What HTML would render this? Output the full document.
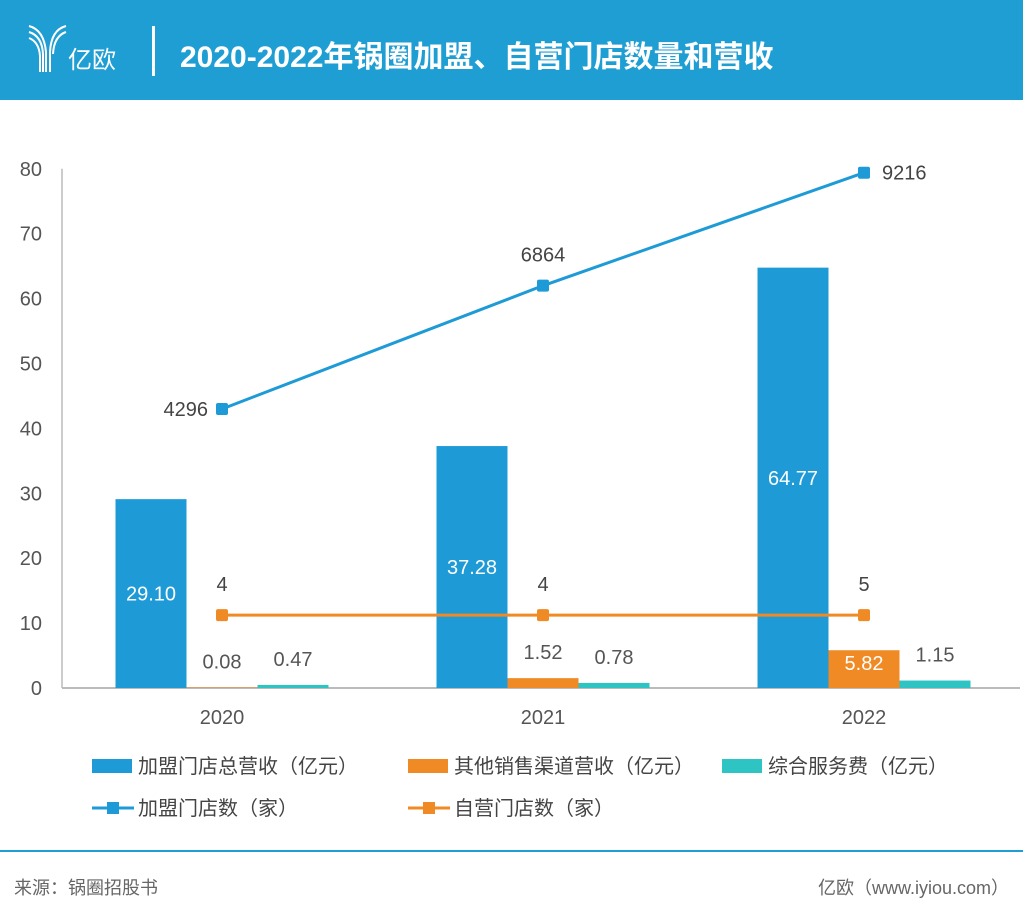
<!DOCTYPE html>
<html><head><meta charset="utf-8"><style>
body{margin:0;width:1023px;height:918px;background:#fff;font-family:"Liberation Sans","Noto Sans CJK SC",sans-serif;overflow:hidden;position:relative}
.hdr{position:absolute;left:0;top:0;width:1023px;height:100px;background:#1f9ed4}
.t{position:absolute;color:#444;font-size:19px}
</style></head><body>
<div class="hdr">
<svg width="70" height="60" style="position:absolute;left:26px;top:22px">
<path d="M3,4 Q18,8 20,30 L20,50 M3,10 Q16,14 17,32 L17,50 M3,16 Q13,20 14,34 L14,50 M40,4 Q25,8 24,30 L24,50 M40,10 Q28,14 27,32" stroke="#fff" stroke-width="2" fill="none"/></svg>
<div style="position:absolute;left:68px;top:40px;color:#fff;font-size:24px">亿欧</div>
<div style="position:absolute;left:152px;top:26px;width:3px;height:50px;background:#fff"></div>
<div style="position:absolute;left:180px;top:32px;color:#fff;font-size:30px;font-weight:bold">2020-2022年锅圈加盟、自营门店数量和营收</div>
</div>
<svg id="c" width="1023" height="740" style="position:absolute;left:0;top:100px"></svg>
<div style="position:absolute;left:0;top:850px;width:1023px;height:2px;background:#1f9ed4"></div>
<div class="t" style="left:14px;top:874px;color:#666;font-size:18px">来源：锅圈招股书</div>
<div class="t" style="right:14px;top:874px;color:#666;font-size:18px">亿欧（www.iyiou.com）</div>
<script>
const categories=["2020","2021","2022"];
const franchiseRevenue=[29.10,37.28,64.77];
const otherRevenue=[0.08,1.52,5.82];
const serviceFee=[0.47,0.78,1.15];
const franchiseStores=[4296,6864,9216];
const ownStores=[4,4,5];
const yTicks=[0,10,20,30,40,50,60,70,80];
const svg=document.getElementById('c');const NS='http://www.w3.org/2000/svg';
const OY=100;
function y(v){return 688-OY-v*6.49;}
function y2(c){return y(c*0.0074+11.2);}
function xc(i){return 222+i*321;}
function el(t,a,txt){const e=document.createElementNS(NS,t);for(const k in a)e.setAttribute(k,a[k]);if(txt!==undefined)e.textContent=txt;svg.appendChild(e);return e;}
yTicks.forEach(v=>{const e=el('text',{x:42,y:y(v)+7,'text-anchor':'end','font-size':20,fill:'#555'},v);

});
const ax=el('line',{x1:62,y1:y(0),x2:62,y2:y(80),stroke:'#ccc','stroke-width':2});


const xa=el('line',{x1:62,y1:y(0),x2:1020,y2:y(0),stroke:'#bbb','stroke-width':2});


const series=[[franchiseRevenue,'#1e9bd7',-1],[otherRevenue,'#f08a24',0],[serviceFee,'#2ec4c4',1]];
categories.forEach((c,i)=>{
 const t=el('text',{x:xc(i)+(i==0?0:0),y:y(0)+36,'text-anchor':'middle','font-size':20,fill:'#555'},c);
 
 
 series.forEach(([arr,col,o],s)=>{
  const v=arr[i],x=xc(i)+o*71-35.5,top=y(v);
  const r=el('rect',{x:x,y:top,width:71,height:y(0)-top,fill:col});
  
  
  let ly,fill='#555';
  if(v>=5){ly=(v>10?(top+y(0))/2:top+13)+7;fill='#fff';}else{ly=Math.min(top-26,y(0)-26)+7;}
  const lb=el('text',{x:x+35.5,y:ly,'text-anchor':'middle','font-size':20,fill:fill},v.toFixed(2));
  
  
 });
});
function line(arr,f,col,lbl,dx,dy,anchor){
 const p=el('polyline',{points:arr.map((v,i)=>xc(i)+','+f(v)).join(' '),fill:'none',stroke:col,'stroke-width':3});
 
 
 arr.forEach((v,i)=>{
  const m=el('rect',{x:xc(i)-6,y:f(v)-6,width:12,height:12,rx:2,fill:col});
  
  
  const d=dx[i];
  const t=el('text',{x:xc(i)+d[0],y:f(v)+d[1],'text-anchor':d[2],'font-size':20,fill:'#444'},v);
  
  
 });
}
line(franchiseStores,y2,'#1e9bd7','franchise-stores',[[-14,7,'end'],[0,-24,'middle'],[18,7,'start']]);
line(ownStores,y2,'#f08a24','own-stores',[[0,-24,'middle'],[0,-24,'middle'],[0,-24,'middle']]);
const leg=[[92,666,'bar','#1e9bd7','加盟门店总营收（亿元）'],[408,666,'bar','#f08a24','其他销售渠道营收（亿元）'],[722,666,'bar','#2ec4c4','综合服务费（亿元）'],[92,708,'line','#1e9bd7','加盟门店数（家）'],[408,708,'line','#f08a24','自营门店数（家）']];
leg.forEach(([x,yy,k,col,txt])=>{
 let m;
 if(k=='bar'){m=el('rect',{x:x,y:yy-7,width:40,height:14,fill:col});}
 else{m=el('g',{});const l=document.createElementNS(NS,'line');l.setAttribute('x1',x);l.setAttribute('x2',x+42);l.setAttribute('y1',yy);l.setAttribute('y2',yy);l.setAttribute('stroke',col);l.setAttribute('stroke-width',3);m.appendChild(l);const r=document.createElementNS(NS,'rect');r.setAttribute('x',x+15);r.setAttribute('y',yy-6);r.setAttribute('width',12);r.setAttribute('height',12);r.setAttribute('fill',col);m.appendChild(r);}
 
 
 const t=el('text',{x:x+46,y:yy+7,'font-size':20,fill:'#444'},txt);
 
 
});
</script>
</body></html>
